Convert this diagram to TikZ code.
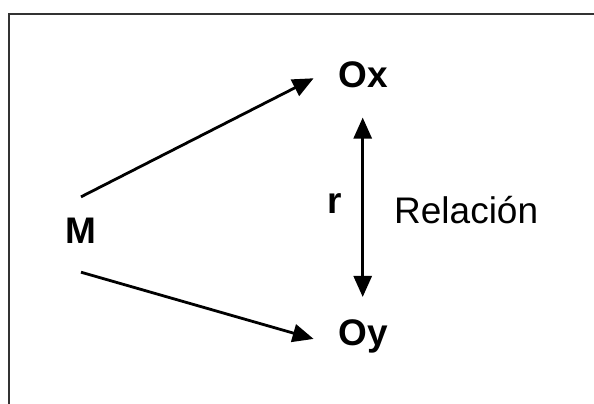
\documentclass[tikz,border=0pt]{standalone}
\usepackage{fontspec}
\setmainfont{Liberation Sans}
\usetikzlibrary{arrows.meta}
\begin{document}
\begin{tikzpicture}[x=1pt,y=-1pt,
  lbl/.style={inner sep=0pt,font=\fontsize{37}{41}\selectfont\bfseries},
  rlbl/.style={inner sep=0pt,font=\fontsize{37}{41}\selectfont},
  arr/.style={line width=2.8pt,-{Triangle[length=21pt,width=18pt]}},
  darr/.style={line width=2.8pt,{Triangle[length=21pt,width=18pt]}-{Triangle[length=21pt,width=18pt]}},
  frame/.style={line width=2pt,draw=black!80,line join=miter}]
\useasboundingbox[fill=white] (0,0) rectangle (594,404);
\draw[frame] (8.7,404) -- (8.7,14.3) -- (594,14.3);
\node[lbl,anchor=base] (M) at (81,243) {M};
\node[lbl,anchor=base] (Ox) at (363.5,87) {Ox};
\node[lbl,anchor=base] (Oy) at (363.5,345) {Oy};
\node[lbl,anchor=base] (r) at (334.5,213) {r};
\node[rlbl,anchor=base west] (rel) at (394,223) {Relación};
\draw[arr] ([yshift=20.5pt]M.north) -- ([xshift=-25pt,yshift=-4pt]Ox.west);
\draw[arr] ([yshift=-29pt]M.south) -- ([xshift=-25pt,yshift=-3pt]Oy.west);
\draw[darr] ([xshift=-0.8pt,yshift=-30pt]Ox.south) -- ([xshift=-0.8pt,yshift=22pt]Oy.north);
\end{tikzpicture}
\end{document}
